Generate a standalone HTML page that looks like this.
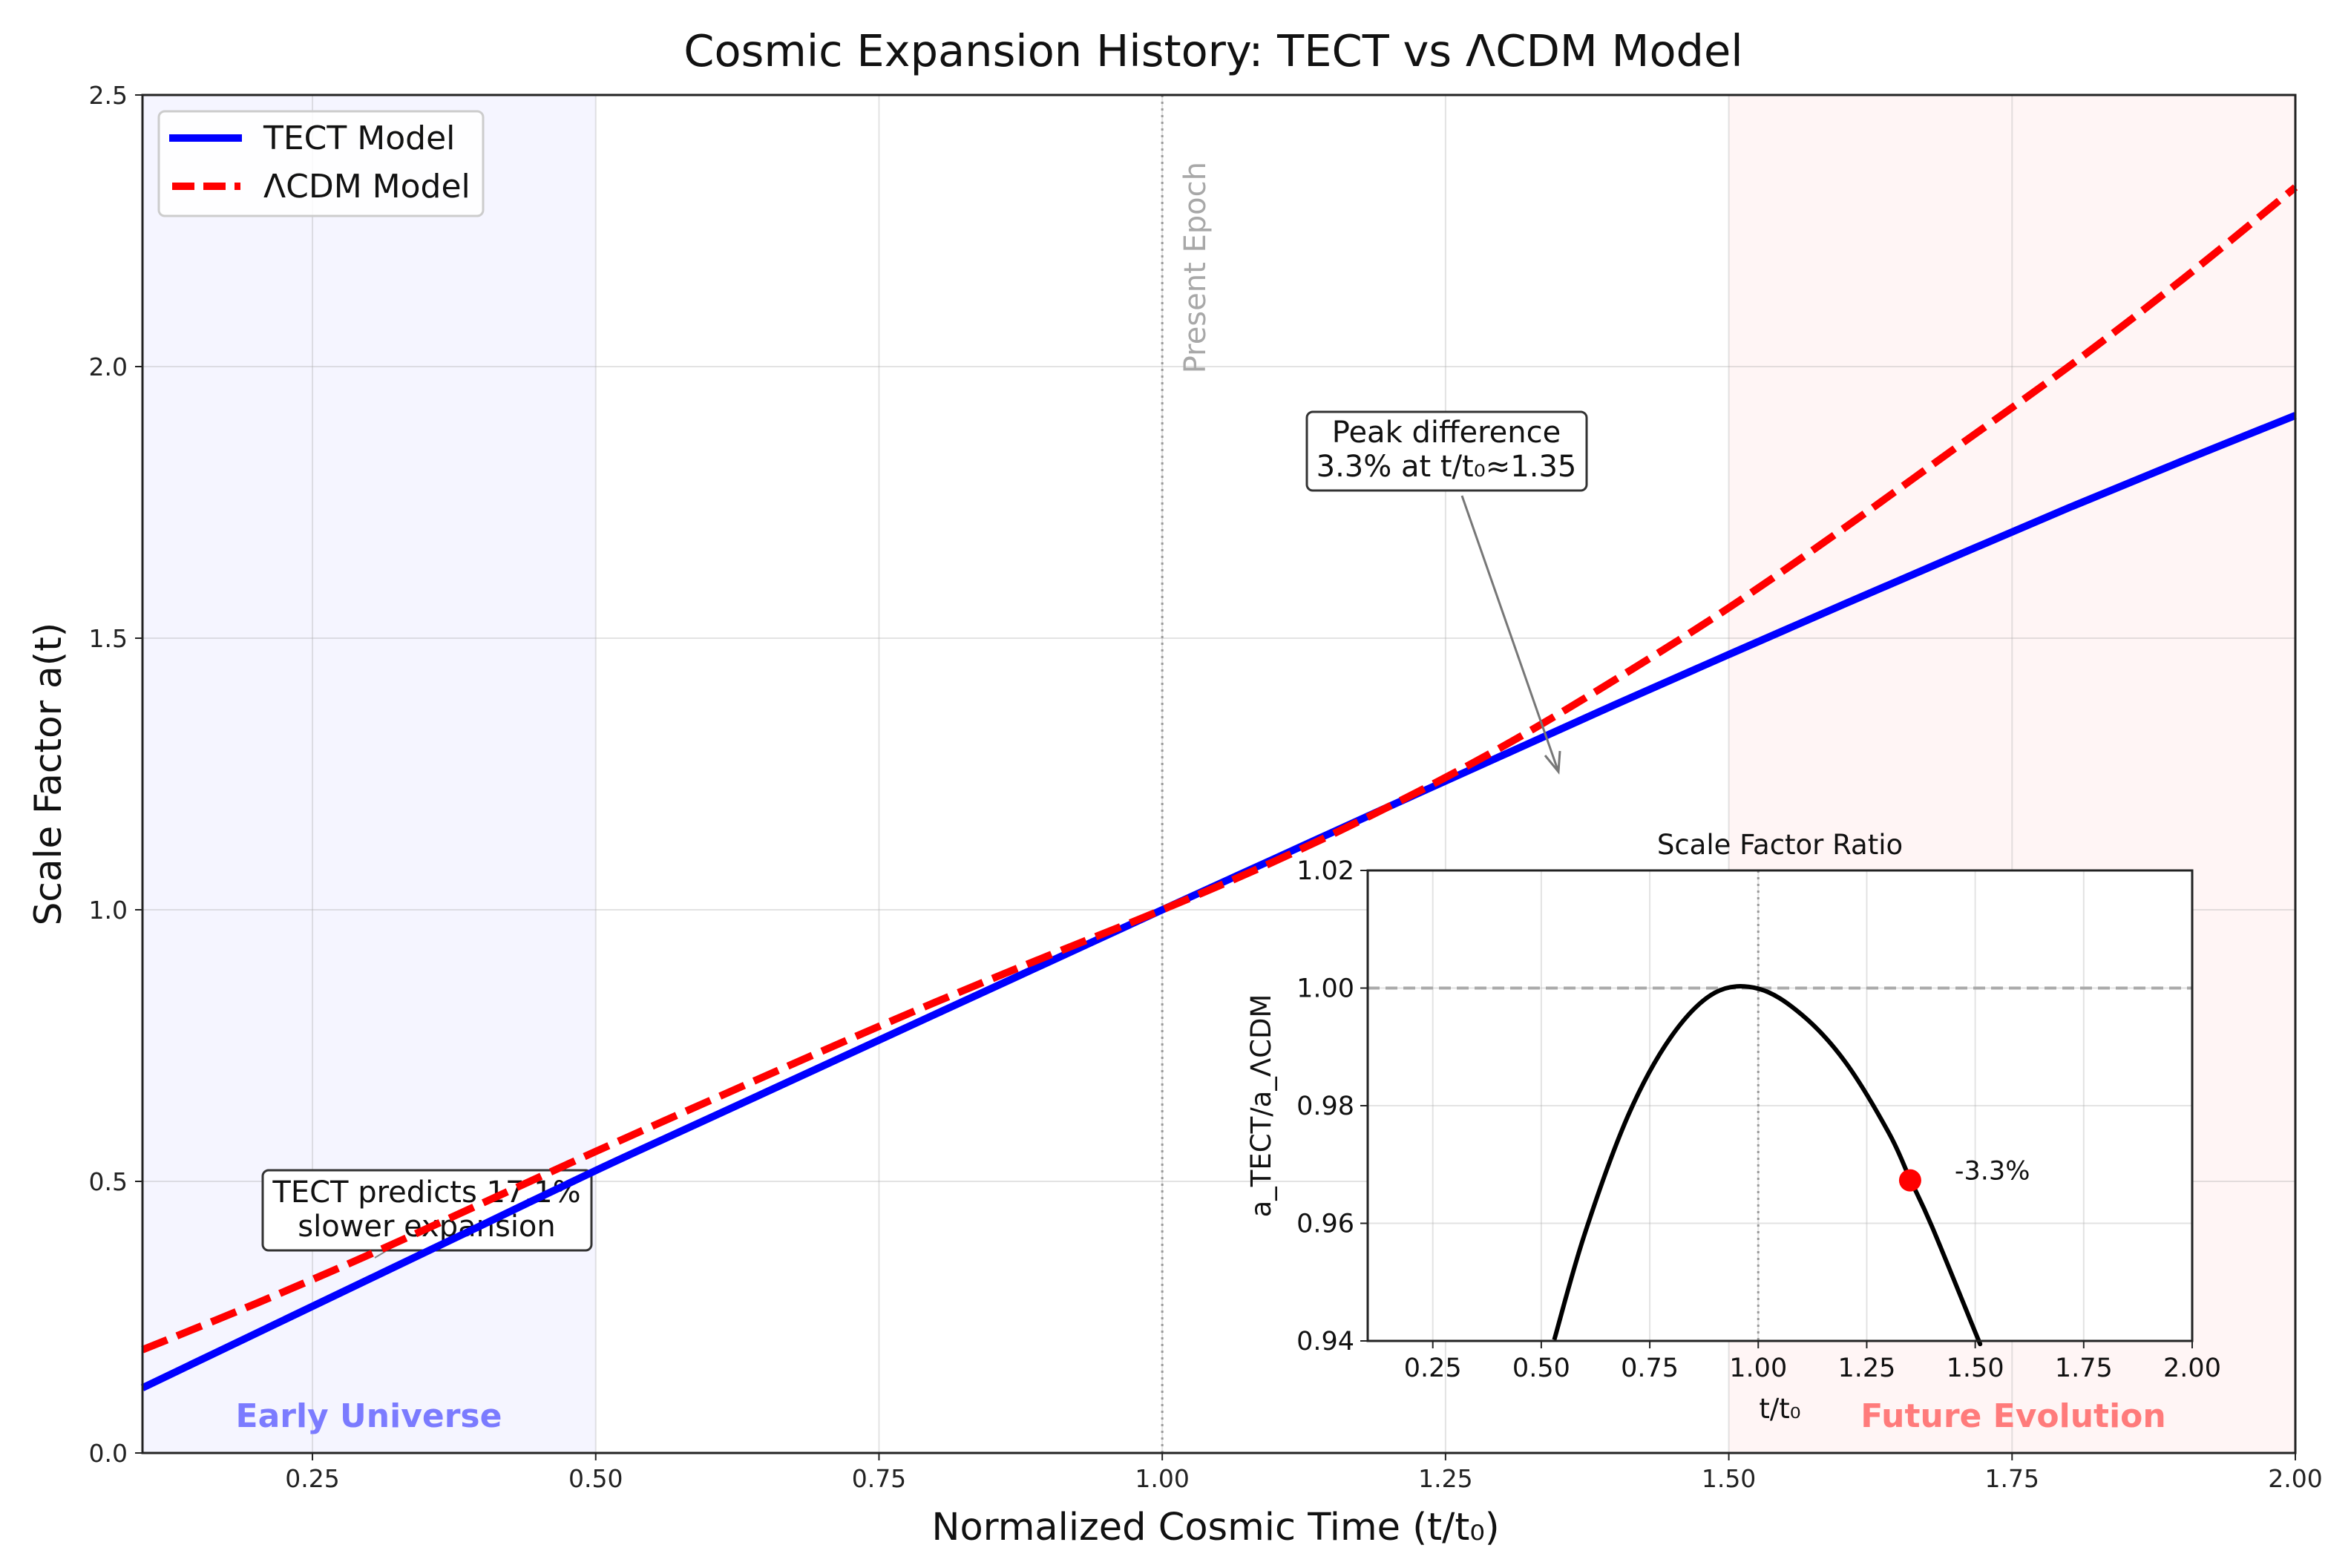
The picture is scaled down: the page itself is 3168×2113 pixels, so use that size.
<!DOCTYPE html>
<html><head><meta charset="utf-8"><style>
html,body{margin:0;padding:0;background:#fff;}
svg{display:block;font-family:"DejaVu Sans","Liberation Sans",sans-serif;}
</style></head><body>
<svg id="chart" width="3168" height="2113" viewBox="0 0 3168 2113" xmlns="http://www.w3.org/2000/svg">
<rect width="3168" height="2113" fill="#fff"/>
<g id="main"></g>
<g id="inset"></g>
</svg>
<script>
const tGrid = [0.1,0.2,0.3,0.4,0.5,0.6,0.7,0.8,0.9,1.0,1.1,1.2,1.3,1.4,1.5,1.6,1.7,1.8,1.9,2.0];
const tectValues = [0.12,0.22,0.32,0.42,0.52,0.616,0.712,0.808,0.904,1.0,1.095,1.19,1.284,1.378,1.47,1.561,1.651,1.74,1.826,1.91];
const lcdmValues = [0.19,0.275,0.365,0.46,0.555,0.648,0.74,0.83,0.916,1.0,1.09,1.19,1.30,1.424,1.556,1.70,1.85,2.0,2.16,2.33];
const xTicks = [0.25,0.5,0.75,1.0,1.25,1.5,1.75,2.0];
const xTickLabels = ["0.25","0.50","0.75","1.00","1.25","1.50","1.75","2.00"];
const yTicks = [0,0.5,1.0,1.5,2.0,2.5];
const yTickLabels = ["0.0","0.5","1.0","1.5","2.0","2.5"];
const ratioT = [0.53,0.6,0.7,0.8,0.9,1.0,1.1,1.2,1.3,1.35,1.4,1.5,1.51];
const ratioValues = [0.9402,0.9582,0.9783,0.9918,0.9992,0.9999,0.9955,0.9875,0.9755,0.9675,0.9595,0.9415,0.9397];
const insetYTicks = [0.94,0.96,0.98,1.00,1.02];
const insetYTickLabels = ["0.94","0.96","0.98","1.00","1.02"];
const peakT = [1.35];
const peakRatio = [0.9673];

const NS="http://www.w3.org/2000/svg";
function mk(parent,tag,attrs,text){const e=document.createElementNS(NS,tag);for(const k in attrs)e.setAttribute(k,attrs[k]);if(text!==undefined)e.textContent=text;parent.appendChild(e);return e;}
function smooth(pts){
  let d='M'+pts[0][0].toFixed(1)+' '+pts[0][1].toFixed(1);
  for(let i=0;i<pts.length-1;i++){
    const p0=pts[Math.max(0,i-1)],p1=pts[i],p2=pts[i+1],p3=pts[Math.min(pts.length-1,i+2)];
    const c1x=p1[0]+(p2[0]-p0[0])/6,c1y=p1[1]+(p2[1]-p0[1])/6;
    const c2x=p2[0]-(p3[0]-p1[0])/6,c2y=p2[1]-(p3[1]-p1[1])/6;
    d+=` C${c1x.toFixed(1)} ${c1y.toFixed(1)} ${c2x.toFixed(1)} ${c2y.toFixed(1)} ${p2[0].toFixed(1)} ${p2[1].toFixed(1)}`;
  }
  return d;
}

const L=192,R=3093,T=128,B=1958;
const X=v=>L+(v-0.1)/(1.9)*(R-L);
const Y=v=>B-(v/2.5)*(B-T);
const g=document.getElementById('main');

let e;
e=mk(g,'rect',{x:L,y:T,width:X(0.5)-L,height:B-T,fill:'#0000ff','fill-opacity':0.04});


e=mk(g,'rect',{x:X(1.5),y:T,width:R-X(1.5),height:B-T,fill:'#ff0000','fill-opacity':0.04});



xTicks.forEach((v,i)=>{
  e=mk(g,'line',{x1:X(v),x2:X(v),y1:T,y2:B,stroke:'#b0b0b0','stroke-opacity':0.35,'stroke-width':2});
  
  
  mk(g,'line',{x1:X(v),x2:X(v),y1:B,y2:B+10,stroke:'#222','stroke-width':2});
  e=mk(g,'text',{x:X(v),y:B+46,'font-size':33,'text-anchor':'middle',fill:'#222'},xTickLabels[i]);
  
  
});
yTicks.forEach((v,i)=>{
  e=mk(g,'line',{x1:L,x2:R,y1:Y(v),y2:Y(v),stroke:'#b0b0b0','stroke-opacity':0.35,'stroke-width':2});
  
  
  mk(g,'line',{x1:L-10,x2:L,y1:Y(v),y2:Y(v),stroke:'#222','stroke-width':2});
  e=mk(g,'text',{x:L-20,y:Y(v)+12,'font-size':33,'text-anchor':'end',fill:'#222'},yTickLabels[i]);
  
  
});

e=mk(g,'line',{x1:X(1.0),x2:X(1.0),y1:T,y2:B,stroke:'#999','stroke-width':3,'stroke-dasharray':'3 6'});


e=mk(g,'text',{x:0,y:0,'font-size':40,fill:'#a8a8a8',transform:`translate(${X(1.0)+58},${Y(2.5)+90}) rotate(-90)`,'text-anchor':'end'},'Present Epoch');



e=mk(g,'rect',{x:354,y:1577,width:443,height:108,rx:8,fill:'#fff',stroke:'#333','stroke-width':3});


e=mk(g,'text',{x:575,y:1620,'font-size':40,'text-anchor':'middle',fill:'#111'},'TECT predicts 17.1%');


mk(g,'text',{x:575,y:1666,'font-size':40,'text-anchor':'middle',fill:'#111'},'slower expansion');
mk(g,'line',{x1:520,y1:1686,x2:505,y2:1695,stroke:'#888','stroke-width':2});

const pts=(vals)=>tGrid.map((t,i)=>[X(t),Y(vals[i])]);
e=mk(g,'path',{d:smooth(pts(tectValues)),fill:'none',stroke:'#0000ff','stroke-width':10,'stroke-linejoin':'round'});


e=mk(g,'path',{d:smooth(pts(lcdmValues)),fill:'none',stroke:'#ff0000','stroke-width':10,'stroke-dasharray':'36 14'});



e=mk(g,'rect',{x:L,y:T,width:R-L,height:B-T,fill:'none',stroke:'#222','stroke-width':3});



e=mk(g,'text',{x:497,y:1923,'font-size':44,'font-weight':'bold','text-anchor':'middle',fill:'#7b7bff'},'Early Universe');


e=mk(g,'text',{x:2713,y:1923,'font-size':44,'font-weight':'bold','text-anchor':'middle',fill:'#ff7b7b'},'Future Evolution');



e=mk(g,'line',{x1:1970,y1:668,x2:2100,y2:1040,stroke:'#777','stroke-width':3});


mk(g,'path',{d:'M2082 1018 L2100 1040 L2102 1012',fill:'none',stroke:'#777','stroke-width':3});
e=mk(g,'rect',{x:1761,y:555,width:377,height:106,rx:8,fill:'#fff',stroke:'#333','stroke-width':3});


e=mk(g,'text',{x:1949,y:596,'font-size':40,'text-anchor':'middle',fill:'#111'},'Peak difference');


mk(g,'text',{x:1949,y:642,'font-size':40,'text-anchor':'middle',fill:'#111'},'3.3% at t/t₀≈1.35');

e=mk(g,'rect',{x:214,y:150,width:437,height:141,rx:8,fill:'#fff','fill-opacity':0.85,stroke:'#ccc','stroke-width':3});


mk(g,'line',{x1:228,x2:326,y1:186,y2:186,stroke:'#0000ff','stroke-width':10});
e=mk(g,'text',{x:355,y:201,'font-size':44,fill:'#111'},'TECT Model');


mk(g,'line',{x1:232,x2:324,y1:251,y2:251,stroke:'#ff0000','stroke-width':10,'stroke-dasharray':'30 12'});
e=mk(g,'text',{x:355,y:266,'font-size':44,fill:'#111'},'ΛCDM Model');



e=mk(g,'text',{x:1635,y:89,'font-size':59,'text-anchor':'middle',fill:'#111'},'Cosmic Expansion History: TECT vs ΛCDM Model');


e=mk(g,'text',{x:1638,y:2075,'font-size':51,'text-anchor':'middle',fill:'#111'},'Normalized Cosmic Time (t/t₀)');


e=mk(g,'text',{x:0,y:0,'font-size':50,'text-anchor':'middle',fill:'#111',transform:`translate(82,${(T+B)/2}) rotate(-90)`},'Scale Factor a(t)');



const gi=document.getElementById('inset');
const iL=1843,iR=2954,iT=1173,iB=1807;
const IX=v=>iL+(v-0.1)/1.9*(iR-iL);
const IY=v=>iB-(v-0.94)/0.08*(iB-iT);
e=mk(gi,'rect',{x:iL,y:iT,width:iR-iL,height:iB-iT,fill:'#fff'});


xTicks.forEach((v,i)=>{
  mk(gi,'line',{x1:IX(v),x2:IX(v),y1:iT,y2:iB,stroke:'#b0b0b0','stroke-opacity':0.35,'stroke-width':2});
  mk(gi,'line',{x1:IX(v),x2:IX(v),y1:iB,y2:iB+10,stroke:'#222','stroke-width':2});
  e=mk(gi,'text',{x:IX(v),y:iB+48,'font-size':35,'text-anchor':'middle',fill:'#111'},xTickLabels[i]);
  
  
});
insetYTicks.forEach((v,i)=>{
  mk(gi,'line',{x1:iL,x2:iR,y1:IY(v),y2:IY(v),stroke:'#b0b0b0','stroke-opacity':0.35,'stroke-width':2});
  mk(gi,'line',{x1:iL-10,x2:iL,y1:IY(v),y2:IY(v),stroke:'#222','stroke-width':2});
  e=mk(gi,'text',{x:iL-18,y:IY(v)+12,'font-size':35,'text-anchor':'end',fill:'#111'},insetYTickLabels[i]);
  
  
});
e=mk(gi,'line',{x1:iL,x2:iR,y1:IY(1.0),y2:IY(1.0),stroke:'#aaa','stroke-width':4,'stroke-dasharray':'16 8'});


e=mk(gi,'line',{x1:IX(1.0),x2:IX(1.0),y1:iT,y2:iB,stroke:'#999','stroke-width':3,'stroke-dasharray':'3 6'});


e=mk(gi,'path',{d:smooth(ratioT.map((t,i)=>[IX(t),IY(ratioValues[i])])),fill:'none',stroke:'#000','stroke-width':6,'stroke-linejoin':'round'});


peakT.forEach((t,i)=>{
  e=mk(gi,'circle',{cx:IX(t),cy:IY(peakRatio[i]),r:15,fill:'#ff0000'});
  
  
  e=mk(gi,'text',{x:IX(t)+60,y:IY(peakRatio[i])-1,'font-size':35,fill:'#111'},'-3.3%');
  
  
});
e=mk(gi,'rect',{x:iL,y:iT,width:iR-iL,height:iB-iT,fill:'none',stroke:'#222','stroke-width':3});


e=mk(gi,'text',{x:(iL+iR)/2,y:iT-22,'font-size':37,'text-anchor':'middle',fill:'#111'},'Scale Factor Ratio');


e=mk(gi,'text',{x:(iL+iR)/2,y:iB+104,'font-size':37,'text-anchor':'middle',fill:'#111'},'t/t₀');


e=mk(gi,'text',{x:0,y:0,'font-size':37,'text-anchor':'middle',fill:'#111',transform:`translate(1712,${(iT+iB)/2}) rotate(-90)`},'a_TECT/a_ΛCDM');


</script>
</body></html>
